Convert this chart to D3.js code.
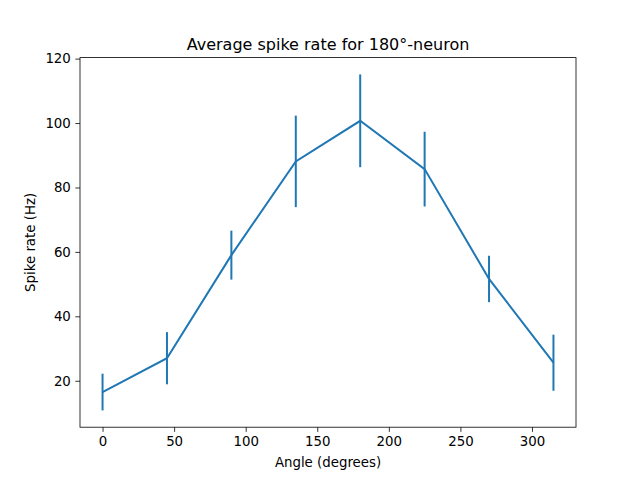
<!DOCTYPE html>
<html>
<head>
<meta charset="utf-8">
<script src="https://cdn.jsdelivr.net/npm/d3@7"></script>
<style>
  body { margin: 0; background: #fff; }
  text { font-family: "DejaVu Sans", sans-serif; fill: #000; }
</style>
</head>
<body>
<div id="chart"></div>
<script>
// Angles tested and measured spike rates
const angles = [0, 45, 90, 135, 180, 225, 270, 315];
const rates = [16.5, 27.0, 59.0, 88.1, 100.7, 85.7, 51.6, 25.6];
const errors = [5.7, 8.1, 7.6, 14.2, 14.4, 11.6, 7.2, 8.7];
const xTicks = [0, 50, 100, 150, 200, 250, 300];
const yTicks = [20, 40, 60, 80, 100, 120];

const width = 640, height = 480;
const margin = {left: 80, right: 64, top: 57.6, bottom: 52.8};
const color = "#1f77b4";

const svg = d3.select("#chart")
    .append("svg")
    .attr("width", width)
    .attr("height", height);

const data = angles.map((a, i) => ({a: a, r: rates[i], e: errors[i]}));

// matplotlib-like 5% padding on the data range
const xMin = d3.min(angles), xMax = d3.max(angles);
const xPad = (xMax - xMin) * 0.05;
const yMin = d3.min(data, d => d.r - d.e), yMax = d3.max(data, d => d.r + d.e);
const yPad = (yMax - yMin) * 0.05;

const x = d3.scaleLinear()
    .domain([xMin - xPad, xMax + xPad])
    .range([margin.left, width - margin.right]);

const y = d3.scaleLinear()
    .domain([yMin - yPad, yMax + yPad])
    .range([height - margin.bottom, margin.top]);

// Axes
const xAxis = svg.append("g")
    .attr("transform", `translate(0,${height - margin.bottom})`)
    .call(d3.axisBottom(x).tickValues(xTicks).tickSize(4.67).tickPadding(4.5));

const yAxis = svg.append("g")
    .attr("transform", `translate(${margin.left},0)`)
    .call(d3.axisLeft(y).tickValues(yTicks).tickSize(4.67).tickPadding(4.5));

[xAxis, yAxis].forEach(g => {
    g.select(".domain").remove();
    g.selectAll(".tick line").attr("stroke", "#000").attr("stroke-width", 0.8);
    g.selectAll(".tick text").style("font-size", "13.33px");
});

// Frame
svg.append("rect")
    .attr("x", margin.left)
    .attr("y", margin.top)
    .attr("width", width - margin.left - margin.right)
    .attr("height", height - margin.top - margin.bottom)
    .attr("fill", "none")
    .attr("stroke", "#000")
    .attr("stroke-width", 0.8);

// Line
const line = d3.line()
    .x(d => x(d.a))
    .y(d => y(d.r));

svg.append("path")
    .datum(data)
    .attr("d", line)
    .attr("fill", "none")
    .attr("stroke", color)
    .attr("stroke-width", 2);

// Error bars
svg.selectAll(".err")
    .data(data)
    .enter()
    .append("line")
    .attr("class", "err")
    .attr("x1", d => x(d.a))
    .attr("x2", d => x(d.a))
    .attr("y1", d => y(d.r - d.e))
    .attr("y2", d => y(d.r + d.e))
    .attr("stroke", color)
    .attr("stroke-width", 2);

// Labels
svg.append("text")
    .attr("x", (margin.left + width - margin.right) / 2)
    .attr("y", margin.top - 8)
    .attr("text-anchor", "middle")
    .style("font-size", "16px")
    .text("Average spike rate for 180°-neuron");

svg.append("text")
    .attr("x", (margin.left + width - margin.right) / 2)
    .attr("y", 467)
    .attr("text-anchor", "middle")
    .style("font-size", "13.33px")
    .text("Angle (degrees)");

svg.append("text")
    .attr("transform", `translate(35,${(margin.top + height - margin.bottom) / 2}) rotate(-90)`)
    .attr("text-anchor", "middle")
    .style("font-size", "13.33px")
    .text("Spike rate (Hz)");
</script>
</body>
</html>
